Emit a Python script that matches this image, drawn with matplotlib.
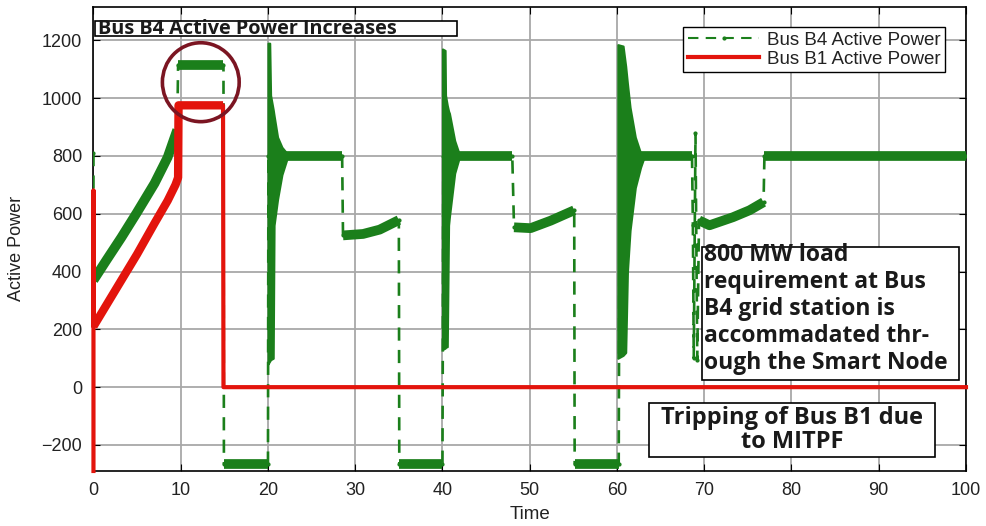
import matplotlib
matplotlib.use("Agg")
import matplotlib.pyplot as plt
import numpy as np
from matplotlib.patches import Ellipse, Rectangle
from matplotlib.lines import Line2D

# Bus B4 (green) - main trace, vertical jumps share (almost) the same time
green_t = [0, 0, 1.5, 3.2, 5.0, 7.0, 8.5, 9.6, 9.7, 14.9, 14.95, 20.0, 20.05, 28.5, 28.6,
           30.9, 32.8, 35.0, 35.05, 40.0, 40.1, 48.0, 48.2, 50.1, 52.4, 55.1, 55.15, 60.2,
           60.3, 68.6, 68.7, 68.8, 69.0, 69.2, 69.4, 70.6, 73.3, 75.2, 76.8, 76.9, 100]
green_p = [810, 370, 440, 518, 605, 705, 795, 890, 1115, 1115, -265, -265, 800, 800, 525,
           530, 545, 578, -265, -265, 800, 800, 553, 550, 576, 612, -265, -265,
           800, 800, 560, 100, 878, 95, 577, 560, 588, 612, 640, 800, 800]

# oscillation bursts after reclosing (upper / lower envelopes)
burst1_t = [20.0, 20.2, 20.3, 20.6, 20.7, 21.1, 21.6, 22.2]
burst1_hi = [1190, 1190, 1010, 960, 940, 865, 830, 808]
burst1_lo = [80, 90, 95, 100, 560, 650, 735, 792]
burst2_t = [40.0, 40.3, 40.35, 40.55, 40.7, 40.8, 41.4, 41.9]
burst2_hi = [1170, 1165, 1010, 975, 955, 947, 853, 808]
burst2_lo = [130, 135, 138, 140, 560, 590, 740, 792]
burst3_t = [60.1, 60.7, 61.0, 61.2, 61.5, 62.1, 62.7, 63.1]
burst3_hi = [1185, 1180, 1110, 1050, 968, 865, 810, 805]
burst3_lo = [100, 110, 120, 400, 542, 690, 760, 795]

# Bus B1 (red)
red_t = [0, 0, 0, 1.5, 3.2, 5.0, 7.0, 8.5, 9.4, 9.7, 9.75, 14.85, 14.9, 100]
red_p = [-290, 680, 210, 285, 370, 460, 567, 645, 700, 725, 975, 975, 0, 0]

yticks = [-200, 0, 200, 400, 600, 800, 1000, 1200]
xticks = [0, 10, 20, 30, 40, 50, 60, 70, 80, 90, 100]

green = '#1b7f1b'
red = '#e3140c'

fig = plt.figure(figsize=(9.87, 5.26), dpi=100)
ax = fig.add_axes([0.0947, 0.1046, 0.884, 0.882])
ax.set_xlim(0, 100)
ax.set_ylim(-290, 1315)
ax.set_xticks(xticks)
ax.set_yticks(yticks)
ax.grid(True, color='#a8a8a8', lw=1.3)
ax.set_axisbelow(True)
ax.tick_params(direction='in', length=5, top=True, right=True, labelsize=13,
               labelcolor='#222222', pad=8)
for lab in ax.get_xticklabels() + ax.get_yticklabels():
    lab.set_family('Liberation Sans')
for s in ax.spines.values():
    s.set_linewidth(1.2)

# green: dashed line through everything, thick band on the slow parts
gt = np.array(green_t)
gp = np.array(green_p)
ax.plot(gt, gp, ls='--', dashes=(5, 3.5), lw=1.9, color=green, marker='.', ms=4, zorder=3)
run = []
for i in range(len(gt) - 1):
    if gt[i + 1] - gt[i] > 0.25:
        if not run:
            run = [i]
        run.append(i + 1)
    else:
        if run:
            ax.plot(gt[run], gp[run], lw=7, color=green, solid_capstyle='butt', zorder=3)
        run = []
if run:
    ax.plot(gt[run], gp[run], lw=7, color=green, solid_capstyle='butt', zorder=3)

for bt, bh, bl in [(burst1_t, burst1_hi, burst1_lo),
                   (burst2_t, burst2_hi, burst2_lo),
                   (burst3_t, burst3_hi, burst3_lo)]:
    ax.fill_between(bt, bl, bh, color=green, lw=1.5, edgecolor=green, zorder=3)

# red
rt = np.array(red_t)
rp = np.array(red_p)
ax.plot(rt, rp, color=red, lw=3, zorder=4, clip_on=False)
ax.plot(rt[2:12], rp[2:12], color=red, lw=6, solid_capstyle='butt', zorder=4)

ax.add_patch(Ellipse((12.3, 1055), 8.8, 273, fill=False, ec='#7b1522', lw=2.6, zorder=5))

ax.set_xlabel('Time', fontsize=13.5, family='Liberation Sans', color='#222222')
ax.set_ylabel('Active Power', fontsize=13, family='Liberation Sans', color='#222222')
ax.xaxis.set_label_coords(0.5, -0.075)
ax.yaxis.set_label_coords(-0.078, 0.48)

handles = [Line2D([], [], ls='--', dashes=(5, 3.5), lw=1.5, color=green, marker='.', ms=4),
           Line2D([], [], color=red, lw=3)]
leg = ax.legend(handles, ['Bus B4 Active Power', 'Bus B1 Active Power'],
                loc='upper right', bbox_to_anchor=(0.976, 0.957), borderaxespad=0,
                fancybox=False, edgecolor='black', framealpha=1, handlelength=3.8,
                labelspacing=0.1, borderpad=0.25, handletextpad=0.4,
                prop={'family': 'Liberation Sans', 'size': 13.5})
leg.get_frame().set_linewidth(1.0)
leg.set_zorder(6)
for t in leg.get_texts():
    t.set_color('#222222')

# annotation boxes
tr = ax.transAxes
ax.add_patch(Rectangle((0.0017, 0.9375), 0.415, 0.0335, transform=tr, fc='white',
                       ec='black', lw=1.2, zorder=7))
ax.text(0.005, 0.9415, 'Bus B4 Active Power Increases', transform=tr, va='baseline',
        ha='left', fontsize=14.3, fontweight='bold', family='Open Sans', color='#1a1a1a',
        zorder=8)

ax.add_patch(Rectangle((0.6974, 0.1961), 0.2946, 0.2867, transform=tr, fc='white',
                       ec='black', lw=1.2, zorder=7))
ax.text(0.6997, 0.492, '800 MW load\nrequirement at Bus\nB4 grid station is\n'
        'accommadated thr-\nough the Smart Node', transform=tr, va='top', ha='left',
        fontsize=16.5, fontweight='bold', family='Open Sans', color='#1a1a1a',
        linespacing=1.17, zorder=8)

ax.add_patch(Rectangle((0.6367, 0.0302), 0.3278, 0.1164, transform=tr, fc='white',
                       ec='black', lw=1.2, zorder=7))
ax.text(0.8006, 0.0884, 'Tripping of Bus B1 due\nto MITPF', transform=tr, va='center',
        ha='center', fontsize=17, fontweight='bold', family='Open Sans', color='#1a1a1a',
        linespacing=1.05, zorder=8)

fig.savefig('out.png', dpi=100)
